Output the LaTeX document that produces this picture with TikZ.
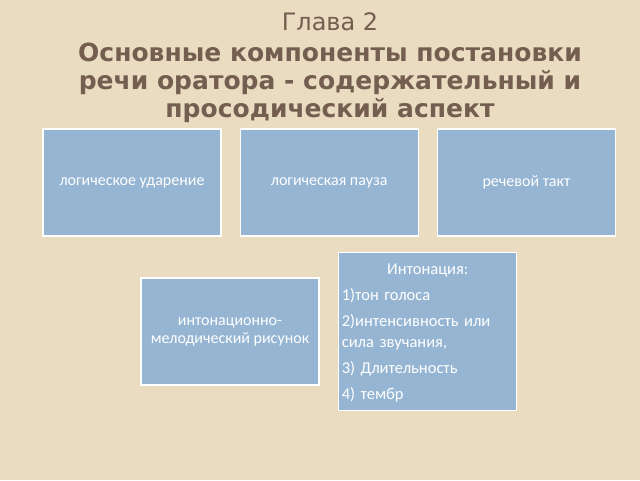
\documentclass[tikz,border=0pt]{standalone}
\usepackage{fontspec}
\setmainfont{Carlito}
\newfontfamily\titlefont{DejaVu Sans}
\usetikzlibrary{positioning}
\definecolor{bgbeige}{HTML}{EADCC1}
\definecolor{boxblue}{HTML}{95B5D3}
\definecolor{titlebrown}{HTML}{735E50}
\tikzset{
  topic/.style={rectangle, draw=white, line width=1.2pt, fill=boxblue,
    minimum width=178pt, minimum height=107pt, text=white, align=center,
    font=\fontsize{16}{18}\selectfont, inner sep=2pt},
  heading/.style={text=titlebrown, align=center, inner sep=0pt},
}
\begin{document}
\begin{tikzpicture}[x=1pt, y=-1pt, node distance=18pt]
  \fill[bgbeige] (0,0) rectangle (640,480);
  \useasboundingbox (0,0) rectangle (640,480);
  % title
  \node[heading, anchor=base, font=\titlefont\fontsize{24}{28}\selectfont] (chapter) at (330,30) {Глава 2};
  \node[heading, anchor=base, font=\titlefont\bfseries\fontsize{25}{28}\selectfont] (subject) at (330,117)
    {Основные компоненты постановки\\
     речи оратора - содержательный и\\ просодический аспект};
  % top row
  \node[topic] (udar) at (132,182.5) {логическое ударение};
  \node[topic, right=of udar] (pauza) {логическая пауза};
  \node[topic, right=of pauza] (takt) {речевой такт};
  % bottom row
  \node[topic] (ris) at (230,331.5) {интонационно-\\мелодический рисунок};
  \node[topic, minimum height=158pt, right=of ris] (inton) {};
  \node[text=white, anchor=north west, text width=172pt, align=left, inner sep=0pt,
    font=\fontsize{16.5}{21}\selectfont] (intontext) at ([xshift=4pt,yshift=-12pt]inton.north west)
    {\makebox[\linewidth]{Интонация:}\\[5pt]
     1)тон голоса\\[5pt]
     2)интенсивность или\\ сила звучания,\\[5pt]
     3) Длительность\\[5pt]
     4) тембр};
\end{tikzpicture}
\end{document}
